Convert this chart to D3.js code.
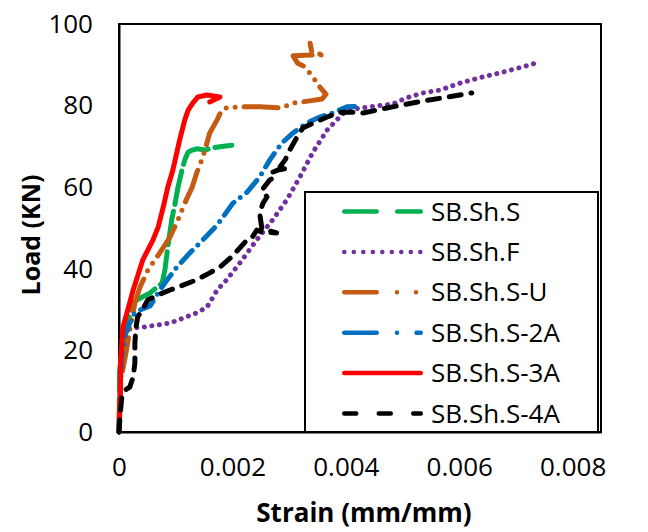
<!DOCTYPE html>
<html>
<head>
<meta charset="utf-8">
<script src="https://cdn.jsdelivr.net/npm/d3@7"></script>
<style>
  body { margin: 0; background: #fff; }
  svg text { font-family: "Open Sans", "Liberation Sans", sans-serif; fill: #000; }
</style>
</head>
<body>
<svg id="chart" width="648" height="532"></svg>
<script>
// series names (legend order)
const seriesNames = ["SB.Sh.S", "SB.Sh.F", "SB.Sh.S-U", "SB.Sh.S-2A", "SB.Sh.S-3A", "SB.Sh.S-4A"];

// [strain (mm/mm), load (kN)]
const shS = [
  [0, 0], [0.00001, 15], [0.00005, 20], [0.00014, 25.7], [0.00025, 31.9], [0.00037, 32.8],
  [0.00055, 34.1], [0.00067, 35.5], [0.00076, 36.5], [0.00081, 39.7], [0.00086, 45.3],
  [0.00093, 52], [0.00099, 56.1], [0.00104, 60], [0.00111, 64.2], [0.00116, 66.7],
  [0.00122, 68.6], [0.00129, 69.1], [0.00137, 69.4], [0.00152, 69.1], [0.00164, 69.6],
  [0.00178, 69.9], [0.00199, 70.3]
];
const shF = [
  [0, 0], [0.00002, 12.7], [0.00005, 22.5], [0.00012, 25], [0.00025, 25.5], [0.00042, 25.7],
  [0.00067, 26.2], [0.0009, 26.7], [0.00113, 27.9], [0.00137, 29.2], [0.00155, 30.6],
  [0.00166, 33.1], [0.00173, 34.8], [0.0019, 37.3], [0.00213, 41.4], [0.00243, 47.1],
  [0.00271, 52], [0.00296, 56.9], [0.00319, 62.5], [0.00342, 68.6], [0.00367, 74],
  [0.00384, 76.5], [0.00398, 78.4], [0.00416, 79.2], [0.00442, 79.7], [0.00483, 80.4],
  [0.00507, 81.9], [0.00536, 83.1], [0.00566, 83.8], [0.00601, 85.5], [0.00641, 87],
  [0.00677, 88.2], [0.00712, 89.5], [0.00742, 90.7]
];
const shSU = [
  [0, 0], [0.00002, 12], [0.00011, 18.4], [0.00019, 25], [0.00028, 31.6], [0.00037, 35.5],
  [0.00051, 39.7], [0.00072, 43.9], [0.0009, 47.8], [0.00104, 52], [0.00116, 56.1],
  [0.00129, 60], [0.00137, 63.5], [0.00148, 67.4], [0.0016, 73.3], [0.00173, 76.5],
  [0.00181, 78.9], [0.00189, 79.4], [0.00213, 79.7], [0.00248, 79.7], [0.00287, 79.4],
  [0.00305, 80.6], [0.00333, 81.1], [0.00358, 81.6], [0.00365, 82.8], [0.00354, 84.6],
  [0.00342, 87], [0.00328, 89.5], [0.00315, 90.4], [0.00307, 92.2], [0.00337, 92.4],
  [0.00363, 92.4], [0.0034, 93.1], [0.00337, 95.3]
];
const shS2A = [
  [0, 0], [0.00002, 7.8], [0.00005, 18.4], [0.00011, 23.8], [0.00019, 26.7], [0.00028, 29.2],
  [0.00037, 29.9], [0.00055, 30.9], [0.00072, 34.8], [0.00085, 37.3], [0.00102, 40.4],
  [0.00125, 43.9], [0.00148, 47.1], [0.00173, 50.7], [0.00201, 56.1], [0.00226, 58.8],
  [0.00248, 62.5], [0.00266, 66.7], [0.00287, 70.8], [0.00307, 73.3], [0.00331, 75.7],
  [0.00354, 77.2], [0.00377, 78.2], [0.00402, 79.7], [0.00428, 79.9]
];
const shS3A = [
  [0, 0], [0.00002, 7.1], [0.00003, 17.6], [0.00007, 25.7], [0.00014, 29.2], [0.00025, 34.8],
  [0.00042, 42.2], [0.0006, 47.1], [0.00069, 50.2], [0.00078, 55.1], [0.00086, 60],
  [0.00095, 64.2], [0.00107, 71.6], [0.00116, 76.5], [0.00122, 78.9], [0.0013, 80.6],
  [0.00139, 82.1], [0.00155, 82.6], [0.00178, 82.1], [0.0016, 80.9]
];
const shS4A = [
  [0, 0], [0.00002, 4.2], [0.00005, 8.6], [0.00011, 10.3], [0.00019, 11], [0.00025, 13.5],
  [0.00028, 16.9], [0.00028, 21.8], [0.0003, 25.7], [0.00033, 28.2], [0.00041, 29.9],
  [0.00051, 32.4], [0.00069, 33.6], [0.0009, 34.8], [0.00113, 36], [0.00137, 37.3],
  [0.0016, 39], [0.00178, 40.4], [0.00196, 42.6], [0.00213, 45.1], [0.00226, 47.1],
  [0.00234, 47.5], [0.00243, 49.5], [0.00252, 49], [0.00278, 48.8], [0.00252, 49.8],
  [0.00248, 53.7], [0.00254, 56.1], [0.00261, 57.6], [0.00252, 59.3], [0.00266, 61.8],
  [0.00275, 62.5], [0.00271, 63.7], [0.0028, 64.2], [0.00298, 64.7], [0.00284, 65],
  [0.00293, 66.7], [0.00301, 69.1], [0.00314, 72.3], [0.00324, 74.5], [0.00342, 75.7],
  [0.00367, 77.2], [0.00389, 78.4], [0.00416, 78.4], [0.0043, 78.2], [0.00455, 78.9],
  [0.0049, 79.9], [0.00527, 80.9], [0.00571, 81.9], [0.00622, 83.1]
];

const xTicks = [0, 0.002, 0.004, 0.006, 0.008];
const yTicks = [0, 20, 40, 60, 80, 100];

// styles
const colors = ["#00B050", "#7030A0", "#C55A11", "#0070C0", "#FF0000", "#000000"];
const plotDash = ["34 7", "0.1 7.5", "34 9 0 9 0 9", "16 8 0 8", null, "12 10"];
const legendDash = ["32.5 20.5", "0.1 9.4", "32.5 20.25 0 19 0 20.25", "32.5 20.25 0 19.5", null, "12 22.5"];

const series = [shS, shF, shSU, shS2A, shS3A, shS4A];

const svg = d3.select("#chart");
const plot = { left: 119, right: 601, top: 24, bottom: 432 };

const x = d3.scaleLinear().domain([0, 0.0085]).range([plot.left, plot.right]);
const y = d3.scaleLinear().domain([0, 100]).range([plot.bottom, plot.top]);

// plot area frame
svg.append("rect")
  .attr("x", plot.left).attr("y", plot.top)
  .attr("width", plot.right - plot.left).attr("height", plot.bottom - plot.top)
  .attr("fill", "none").attr("stroke", "#000").attr("stroke-width", 2);

// axes (no tick marks, just labels)
const xAxis = (g) =>
  g.attr("transform", `translate(0, ${plot.bottom})`)
    .call(d3.axisBottom(x).tickValues(xTicks).tickSize(0).tickPadding(26)
      .tickFormat((d) => (d === 0 ? "0" : d3.format(".3f")(d))))
    .call((g) => g.select(".domain").attr("stroke", "#000").attr("stroke-width", 2))
    .call((g) => g.selectAll("text").attr("font-size", 26).attr("font-family", null));

const yAxis = (g) =>
  g.attr("transform", `translate(${plot.left}, 0)`)
    .call(d3.axisLeft(y).tickValues(yTicks).tickSize(0).tickPadding(26))
    .call((g) => g.select(".domain").attr("stroke", "#000").attr("stroke-width", 2))
    .call((g) => g.selectAll("text").attr("font-size", 26).attr("font-family", null));

svg.append("g").call(xAxis);
svg.append("g").call(yAxis);

// curves
const line = d3.line()
  .x((d) => x(d[0]))
  .y((d) => y(d[1]));

svg.append("g")
  .selectAll("path")
  .data(series)
  .enter()
  .append("path")
  .attr("d", line)
  .attr("fill", "none")
  .attr("stroke", (d, i) => colors[i])
  .attr("stroke-width", 5)
  .attr("stroke-linecap", "round")
  .attr("stroke-linejoin", "round")
  .attr("stroke-dasharray", (d, i) => plotDash[i]);

// legend
const legend = svg.append("g");
legend.append("rect")
  .attr("x", 305).attr("y", 192).attr("width", 293).attr("height", 240)
  .attr("fill", "#fff").attr("stroke", "#000").attr("stroke-width", 2);

const rows = legend.selectAll("g.row")
  .data(seriesNames)
  .enter()
  .append("g")
  .attr("class", "row")
  .attr("transform", (d, i) => `translate(0, ${211.5 + i * 40.4})`);

rows.append("line")
  .attr("x1", 344.25).attr("x2", 420.75)
  .attr("stroke", (d, i) => colors[i])
  .attr("stroke-width", 4.5)
  .attr("stroke-linecap", "round")
  .attr("stroke-dasharray", (d, i) => legendDash[i]);

rows.append("text")
  .attr("x", 431)
  .attr("dy", "0.35em")
  .attr("font-size", 26)
  .text((d) => d);

// axis titles
svg.append("text")
  .attr("x", 364)
  .attr("y", 522)
  .attr("text-anchor", "middle")
  .attr("font-size", 26)
  .attr("font-weight", "bold")
  .text("Strain (mm/mm)");

svg.append("text")
  .attr("transform", "translate(31, 235) rotate(-90)")
  .attr("dy", "0.35em")
  .attr("text-anchor", "middle")
  .attr("font-size", 25)
  .attr("font-weight", "bold")
  .text("Load (KN)");
</script>
</body>
</html>
